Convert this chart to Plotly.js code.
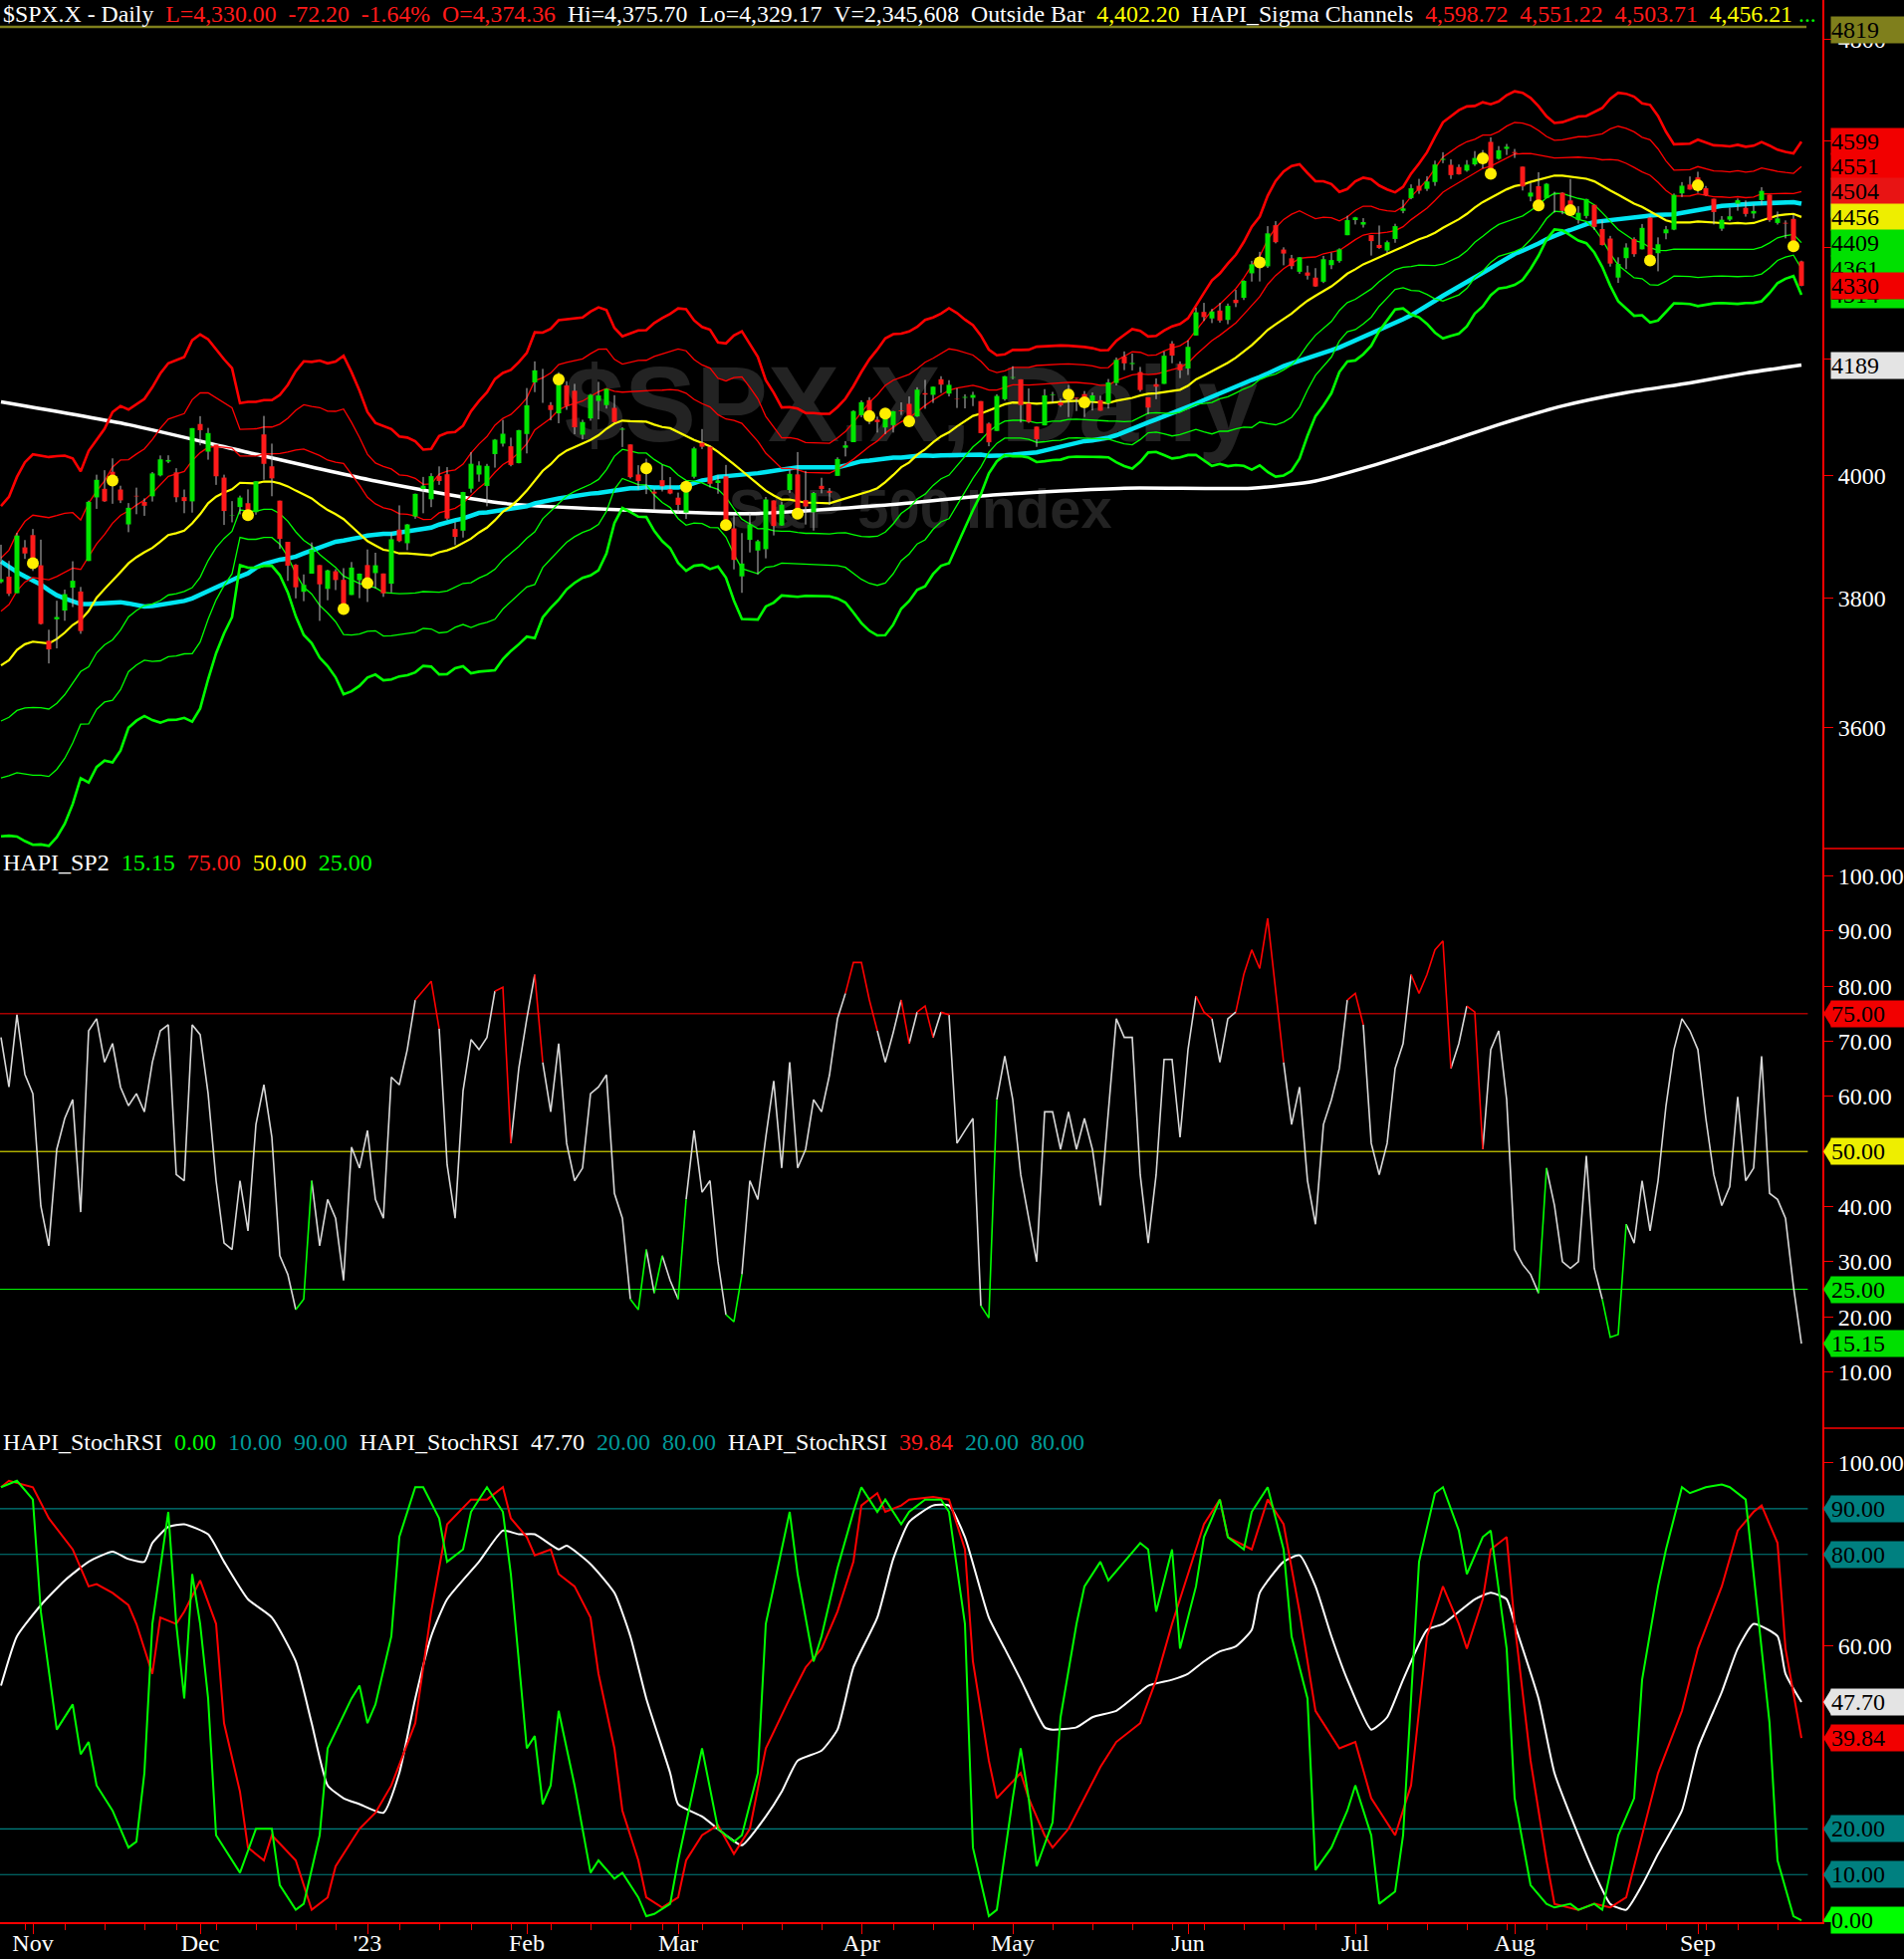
<!DOCTYPE html>
<html><head><meta charset="utf-8">
<script src="https://cdn.plot.ly/plotly-3.0.1.min.js"></script>
<style>html,body{margin:0;padding:0;background:#000;overflow:hidden}#chart{width:1912px;height:1967px}</style>
</head><body><div id="chart"></div>
<script>
// ---------------- DATA ----------------
const closes=[3830.60,3807.30,3901.06,3871.98,
3856.10,3759.69,3719.89,3770.55,3806.80,3828.11,3748.57,3956.37,3992.93,3957.25,3991.73,3958.79,3946.56,3965.34,3949.94,4003.58,4027.26,4026.12,3963.94,3957.63,4080.11,
4076.57,4071.70,3998.84,3941.26,3933.92,3963.51,3934.38,3990.56,4019.65,3995.32,3895.75,3852.36,3817.66,3821.62,3878.44,3822.39,3844.82,3829.25,3783.22,3849.28,3839.50,
3824.14,3852.97,3808.10,3895.08,3892.09,3919.25,3969.61,3983.17,3999.09,3990.97,3928.86,3898.85,3972.61,4019.81,4016.95,4016.22,4060.43,4070.56,4017.77,4076.60,
4119.21,4179.76,4136.48,4111.08,4164.00,4117.86,4081.50,4090.46,4137.29,4136.13,4147.60,4090.41,4079.09,3997.34,3991.05,4012.32,3970.04,3982.24,3970.15,
3951.39,3981.35,4045.64,4048.42,3986.37,3992.01,3918.32,3861.59,3855.76,3919.29,3891.93,3960.28,3916.64,3951.57,4002.87,3936.97,3948.72,3970.99,3977.53,3971.27,4027.81,4050.83,4109.31,
4124.51,4100.60,4090.38,4105.02,4109.11,4108.94,4091.95,4146.22,4137.64,4151.32,4154.87,4154.52,4129.79,4133.52,4137.04,4071.63,4055.99,4135.35,4169.48,
4167.87,4119.58,4090.75,4061.22,4136.25,4138.12,4119.17,4137.64,4130.62,4124.08,4136.28,4109.90,4158.77,4198.05,4191.98,4192.63,4145.58,4115.24,4151.28,4205.45,4205.52,4179.83,
4221.02,4282.37,4273.79,4283.85,4267.52,4293.93,4298.86,4338.93,4369.01,4372.59,4425.84,4409.59,4388.71,4365.69,4381.89,4348.33,4328.82,4378.41,4376.86,4396.44,4450.38,
4455.59,4446.82,4411.59,4398.95,4409.53,4439.26,4472.16,4510.04,4505.42,4522.79,4554.98,4565.72,4534.87,4536.34,4554.64,4567.46,4566.75,4537.41,4582.23,4588.96,
4576.73,4513.39,4501.89,4478.03,4518.44,4499.38,4467.71,4468.83,4464.05,4489.72,4437.86,4404.33,4370.36,4369.71,4399.77,4387.55,4436.01,4376.31,4405.71,4433.31,4497.63,4514.87,4507.66,
4515.77,4496.83,4465.48,4451.14,4457.49,4487.46,4461.90,4467.44,4505.10,4450.32,4453.53,4443.95,4402.20,4330.00];
const opens=[3825.97,3834.69,3808.26,3881.85,
3901.79,3852.90,3733.25,3766.98,3780.71,3817.02,3810.94,3859.89,3963.72,3977.97,4006.41,3976.82,3919.26,3966.39,3956.23,3965.51,4000.30,4023.34,4005.36,3964.19,3957.18,
4087.14,4040.17,4052.02,3996.63,3933.28,3947.79,3954.17,3939.29,4069.38,4015.54,3958.37,3890.91,3853.79,3810.47,3839.49,3853.26,3815.11,3843.34,3829.56,3805.45,3829.06,
3853.29,3840.36,3839.74,3823.37,3910.82,3888.57,3932.35,3977.57,3960.60,3999.28,4002.25,3911.84,3909.04,3978.14,4001.74,3982.71,4036.08,4053.72,4049.27,4020.85,
4070.07,4158.68,4136.69,4119.57,4105.35,4153.47,4144.25,4068.92,4096.62,4126.70,4119.50,4114.75,4077.39,4052.35,4001.83,4018.60,3973.24,3992.36,3977.19,
3963.34,3938.68,3998.02,4055.15,4048.26,3987.55,3998.66,3912.77,3835.12,3894.01,3876.74,3878.93,3958.69,3917.47,3975.89,4002.04,3959.21,3939.21,3982.93,3974.13,3999.53,4046.74,4056.18,
4102.20,4128.03,4094.50,4081.15,4085.20,4110.29,4121.72,4100.04,4140.11,4137.17,4164.26,4139.33,4130.48,4132.14,4132.07,4126.43,4087.78,4075.29,4129.63,
4166.79,4164.10,4122.25,4082.61,4084.73,4136.98,4124.25,4143.74,4132.24,4138.54,4126.65,4127.95,4122.85,4157.68,4204.15,4190.78,4176.80,4132.96,4155.71,4156.16,4226.71,4190.74,
4183.03,4241.01,4282.99,4271.34,4285.47,4268.69,4304.88,4308.32,4352.61,4366.29,4365.33,4440.95,4396.11,4380.01,4355.40,4354.17,4344.84,4337.36,4367.48,4374.94,4422.44,
4450.48,4442.04,4422.62,4404.54,4394.23,4415.55,4467.69,4491.50,4514.61,4508.86,4521.78,4563.87,4554.38,4550.16,4543.39,4555.19,4558.96,4598.26,4565.75,4584.82,
4578.83,4550.93,4494.27,4513.96,4491.58,4498.03,4501.57,4487.16,4450.69,4458.13,4478.87,4433.79,4416.32,4344.88,4380.28,4415.33,4396.44,4455.16,4389.38,4426.03,4432.75,4500.34,4517.01,
4530.60,4510.06,4490.35,4434.55,4451.30,4480.98,4473.27,4462.65,4487.78,4497.98,4445.13,4445.41,4452.81,4374.36];
const highs=[3886.15,3859.95,3905.42,3893.73,
3911.79,3894.44,3750.59,3796.34,3813.95,3859.40,3818.20,3958.33,4001.48,4008.97,4028.84,3983.09,3954.33,3979.89,3962.00,4005.88,4033.78,4034.02,4012.27,3976.77,4080.11,
4100.51,4080.48,4052.45,4001.51,3957.57,3966.64,3977.02,3990.71,4100.96,4053.76,3958.37,3890.91,3854.86,3838.24,3889.82,3853.26,3845.80,3846.65,3848.32,3858.19,3839.85,
3878.46,3873.16,3839.74,3906.19,3950.57,3919.83,3970.07,3997.76,4003.95,4015.39,4014.16,3922.94,3972.96,4039.31,4023.92,4019.55,4061.57,4094.21,4063.85,4077.16,
4148.95,4195.44,4182.36,4124.63,4176.54,4160.77,4156.23,4094.36,4138.90,4159.77,4148.11,4136.54,4081.51,4052.35,4017.37,4028.30,3978.25,4018.05,3997.50,
3971.73,3990.84,4048.29,4078.49,4050.00,4000.41,4017.81,3934.05,3905.05,3937.29,3894.26,3964.46,3958.91,3956.62,4009.08,4039.49,4007.66,3972.74,3996.38,3979.20,4030.59,4057.85,4110.75,
4127.66,4133.13,4099.69,4107.32,4109.50,4124.26,4134.37,4150.26,4163.19,4151.72,4169.48,4162.57,4148.57,4138.02,4142.41,4126.43,4089.67,4138.24,4170.06,
4186.92,4164.10,4148.30,4082.61,4147.02,4142.30,4130.35,4154.28,4132.80,4143.74,4141.25,4135.54,4164.67,4202.20,4212.91,4209.22,4185.68,4132.96,4165.74,4212.87,4231.10,4195.44,
4232.43,4290.67,4299.28,4288.33,4299.19,4298.01,4322.62,4340.13,4375.37,4391.82,4439.20,4448.47,4400.15,4386.22,4382.25,4366.55,4362.06,4384.42,4390.35,4398.39,4458.48,
4456.46,4454.06,4422.62,4440.39,4412.60,4443.64,4488.34,4517.38,4527.76,4532.85,4562.30,4578.43,4564.74,4555.00,4563.41,4580.62,4582.47,4607.07,4590.16,4594.22,
4584.62,4550.93,4519.49,4540.34,4519.84,4503.31,4502.44,4527.37,4476.23,4490.33,4478.87,4449.95,4421.17,4381.82,4407.55,4418.59,4443.18,4458.30,4418.46,4439.56,4500.14,4521.65,4532.26,
4541.25,4514.29,4490.35,4457.81,4473.53,4490.77,4487.11,4479.39,4511.99,4497.98,4466.36,4449.85,4461.03,4375.70];
const lows=[3824.07,3803.79,3808.26,3863.18,
3843.80,3758.68,3698.15,3721.56,3764.70,3786.28,3744.22,3859.89,3944.82,3956.40,3953.17,3954.34,3906.54,3935.98,3933.34,3956.88,3998.66,4020.76,3955.77,3937.65,3938.58,
4050.87,4026.63,3984.49,3918.39,3922.68,3935.83,3933.04,3935.30,3993.03,3965.65,3879.45,3827.91,3800.04,3795.62,3839.49,3764.49,3797.01,3813.22,3780.78,3805.45,3800.34,
3794.33,3815.77,3802.42,3809.56,3890.42,3877.29,3928.54,3937.56,3947.67,3984.57,3926.59,3885.54,3897.86,3971.64,3989.79,3949.06,4013.29,4048.70,4015.55,4020.44,
4037.20,4141.88,4123.36,4093.38,4088.39,4111.35,4069.67,4060.79,4092.67,4095.01,4113.51,4089.49,4047.95,3995.19,3976.90,3969.19,3943.08,3973.55,3968.98,
3939.05,3928.16,3995.17,4044.61,3980.31,3969.76,3908.70,3846.32,3808.86,3873.63,3838.24,3864.11,3901.27,3916.89,3971.19,3936.17,3919.05,3909.16,3970.46,3951.53,3999.53,4032.10,4056.18,
4098.79,4086.87,4072.56,4069.84,4072.55,4102.61,4086.94,4099.40,4113.20,4123.18,4140.36,4134.49,4114.57,4113.86,4117.77,4071.38,4049.35,4075.29,4127.18,
4164.12,4089.72,4088.86,4048.28,4084.73,4123.81,4116.65,4098.92,4109.29,4099.12,4110.27,4109.86,4113.62,4153.50,4180.20,4179.68,4142.54,4103.98,4129.73,4156.16,4192.18,4166.15,
4171.64,4241.01,4266.82,4263.09,4263.96,4261.07,4291.70,4304.37,4337.66,4337.85,4362.60,4407.44,4367.19,4360.14,4351.82,4341.34,4328.08,4335.00,4360.22,4371.97,4422.44,
4442.29,4436.61,4385.05,4397.40,4389.92,4408.46,4463.23,4489.36,4499.56,4504.90,4514.59,4557.48,4527.56,4535.79,4541.29,4552.42,4547.58,4528.56,4564.01,4573.14,
4567.53,4505.75,4485.54,4474.55,4491.15,4464.39,4461.33,4457.92,4443.98,4453.44,4432.19,4403.55,4364.83,4335.31,4360.30,4382.77,4396.44,4375.55,4356.29,4414.98,4431.68,4493.59,4507.39,
4501.35,4496.01,4442.38,4430.46,4448.38,4467.89,4456.83,4453.52,4478.69,4447.21,4442.11,4416.61,4401.38,4329.17];
// sigma-channel centre (20-bar mean) and channel step (sigma), one per bar
const mid20=[3695,3703,3719,3728,3732,3731,3729,3736,3746,3758,3766,3780,3801,3815,3828,3842,3856,3866,3874,3881,3891,3902,3905,3909,3921,3936,3954,3965,3972,
3977,3988,3987,3987,3990,3990,3987,3982,3975,3969,3962,3952,3943,3936,3928,3916,3904,3892,3885,3878,3876,3872,3872,3871,3869,3869,3874,3877,3882,
3889,3896,3906,3914,3926,3940,3949,3961,3975,3992,4008,4019,4033,4042,4048,4053,4060,4068,4079,4088,4093,4092,4091,4091,4086,4082,4080,4073,4066,
4060,4055,4049,4040,4030,4019,4008,3997,3985,3975,3967,3960,3960,3958,3955,3955,3954,3954,3958,3962,3965,3969,3974,3979,3989,4001,4014,4022,4035,
4044,4056,4066,4073,4083,4092,4101,4105,4110,4115,4121,4124,4124,4123,4122,4123,4125,4125,4127,4127,4126,4125,4123,4123,4127,4129,4132,4136,4139,
4140,4142,4143,4146,4153,4164,4171,4178,4186,4193,4202,4213,4224,4237,4251,4261,4271,4280,4292,4303,4312,4321,4329,4340,4352,4360,4369,4375,4382,
4388,4395,4401,4408,4415,4420,4427,4436,4444,4452,4462,4474,4484,4492,4501,4508,4514,4517,4522,4526,4531,4534,4534,4532,4530,4528,4523,4514,4506,
4498,4490,4481,4475,4467,4458,4450,4446,4446,4446,4448,4447,4445,4445,4444,4445,4444,4445,4450,4454,4459,4461,4462,4456.21];
const sigma20=[84.8,87.2,92.9,98.1,101.2,100.7,100.7,98.9,95.8,90.3,80.3,87.1,86.5,88.0,93.2,92.0,85.3,85.1,85.4,89.8,94.4,96.7,97.6,98.0,103.9,102.3,93.4,83.7,75.7,
68.9,45.0,46.0,46.0,46.0,46.0,50.0,57.5,67.8,75.5,77.5,81.6,83.0,86.4,92.4,86.9,80.1,71.9,68.0,68.6,67.5,64.6,64.0,62.2,58.2,58.6,64.2,65.1,63.8,
65.1,71.0,73.5,75.9,79.5,78.4,77.2,77.7,78.4,84.9,79.4,78.0,78.4,75.9,74.4,73.4,74.5,74.4,69.1,55.5,48.9,50.8,53.0,53.2,59.1,63.3,66.5,72.1,74.0,
69.3,67.1,67.4,63.0,65.7,74.1,80.2,76.6,72.8,62.6,57.9,51.8,52.0,51.8,50.3,50.3,50.2,50.2,52.7,56.2,62.4,69.3,75.0,79.1,82.3,80.8,76.8,75.4,73.8,
74.9,72.4,71.3,72.2,66.0,59.1,52.8,45.3,35.4,30.4,28.9,30.5,30.5,31.0,33.1,33.0,33.0,32.8,32.0,31.7,31.6,31.2,30.6,30.8,34.9,37.7,40.1,37.7,33.4,
33.4,35.9,38.1,38.5,39.5,43.1,48.7,53.9,55.5,59.1,61.5,65.6,71.4,73.3,81.6,87.6,90.3,90.7,87.8,78.6,70.5,67.4,63.0,54.4,52.2,54.3,53.7,50.7,44.4,
39.9,35.8,37.2,43.2,47.2,52.8,60.3,66.7,67.9,69.2,68.3,64.6,63.7,59.7,58.6,60.3,60.8,58.8,53.8,47.1,38.9,33.6,34.1,36.6,39.1,40.1,44.1,49.9,58.6,
65.2,67.2,68.3,66.0,67.6,63.4,55.9,49.2,49.3,49.6,51.5,50.2,48.9,48.7,48.5,49.2,48.3,48.6,49.3,45.7,41.4,39.4,38.1,47.51];
const channelSteps=[-3,-2,-1,1,2,3];
// cyan average, one per bar
const ma50=[3859,3850,3842,3835,3829,3822,3813,3805,3800,3796,3791,3791,3792,3792,3794,3794,3792,3790,3787,3788,3790,3793,3794,3796,3800,3806,3812,3818,3824,
3830,3835,3840,3849,3855,3859,3862,3864,3867,3872,3877,3882,3886,3891,3893,3895,3898,3901,3903,3904,3904,3906,3908,3909,3911,3914,3919,3923,3926,
3929,3933,3938,3939,3941,3943,3944,3946,3949,3954,3957,3959,3962,3964,3966,3969,3970,3971,3973,3975,3978,3979,3979,3981,3980,3980,3979,3980,3983,
3987,3992,3994,3998,3999,4000,4001,4003,4004,4006,4008,4010,4013,4014,4014,4014,4014,4013,4014,4017,4021,4024,4025,4027,4029,4030,4030,4032,4033,
4034,4033,4034,4034,4034,4034,4035,4035,4033,4033,4034,4035,4036,4038,4039,4042,4045,4048,4051,4055,4058,4059,4061,4064,4068,4074,4080,4086,4090,
4095,4100,4106,4110,4115,4122,4128,4134,4140,4147,4152,4158,4163,4168,4175,4181,4187,4192,4197,4202,4206,4211,4215,4220,4226,4233,4239,4244,4251,
4258,4264,4270,4277,4285,4293,4303,4312,4320,4328,4336,4345,4354,4362,4371,4380,4388,4394,4400,4407,4415,4422,4427,4432,4438,4443,4447,4449,4451,
4453,4455,4457,4459,4459,4460,4460,4461,4464,4467,4470,4472,4475,4477,4478,4480,4480,4481,4482,4483,4484,4484,4484,4481];
// white long average (read at sample bars)
const ma200Bar=[0,16,31,47,63,78,94,110,125,141,157,165,172,180,188,196,204,212,219,226];
const ma200Val=[4125,4086,4039,3991,3954,3943,3937,3950,3968,3979,3979,3991,4016,4050,4086,4118,4141,4158,4175,4189];
// yellow dot bars (dot sits on the close)
const dotBars=[4,14,31,43,46,70,81,86,91,100,109,111,114,134,136,158,186,187,193,197,207,213,225];
// HAPI_SP2, one per bar
const sp2=[70.7,61.7,74.8,64.0,60.5,40.1,32.9,50.4,56.0,59.4,39.0,71.9,74.1,66.2,69.6,61.7,58.3,60.5,57.2,66.2,71.9,73.0,
45.8,44.7,73.0,71.2,60.5,44.7,33.4,32.2,44.7,35.6,54.9,62.1,52.6,31.1,27.7,21.3,23.2,44.7,32.9,41.3,
37.9,26.6,50.8,47.0,53.8,41.3,37.9,63.5,62.1,68.5,77.5,79.1,80.9,72.3,47.6,37.9,61.0,70.3,68.5,70.7,
79.1,79.8,51.5,65.1,74.1,82.1,66.2,57.2,69.6,51.5,44.7,47.0,60.5,61.7,63.9,42.4,37.9,23.2,21.3,32.2,
24.3,31.1,26.6,23.2,41.3,53.8,42.6,44.7,30.0,20.4,19.1,27.7,44.7,41.3,52.6,62.8,47.0,66.2,47.0,50.4,
59.4,57.2,63.9,74.1,78.7,84.3,84.3,77.5,71.9,66.2,71.6,77.5,69.6,75.3,76.4,70.7,75.3,74.8,51.5,53.8,
56.0,22.0,19.8,59.4,67.3,59.4,45.8,37.9,30.0,57.2,57.2,50.4,57.2,50.4,56.0,50.4,40.2,57.2,74.1,70.7,
70.7,45.8,33.4,45.8,66.7,66.7,52.6,68.5,78.2,75.3,74.1,66.2,74.1,75.3,82.1,86.6,83.2,92.3,78.7,66.2,
54.9,61.7,44.7,36.8,54.9,59.4,65.1,77.5,78.7,73.0,51.5,45.8,51.5,65.1,69.6,82.1,78.7,82.1,86.6,88.2,
65.1,69.6,76.4,75.3,50.4,68.5,71.9,59.4,32.2,29.5,27.7,24.3,47.0,40.2,30.0,28.8,30.0,49.2,28.8,
23.2,16.3,16.8,36.8,33.4,44.7,35.6,44.7,58.3,68.5,74.1,71.9,68.5,56.0,45.8,40.2,43.6,59.9,44.7,
47.0,67.3,42.4,41.3,37.9,25.5,15.15];
const sp2Levels=[75,50,25];
// HAPI_StochRSI lines (bar, value)
const stochSlowBar=[0,2,5,8,11,14,16,18,19,21,23,26,28,31,34,37,39,41,43,45,48,50,52,54,56,60,63,65,67,70,71,74,77,79,81,84,85,88,91,93,96,98,100,103,105,107,110,112,114,117,119,121,124,126,128,131,132,135,137,140,142,144,147,149,151,153,155,157,158,161,163,165,167,169,172,174,176,179,181,183,185,187,189,190,193,195,198,200,202,204,206,208,211,213,216,218,220,223,224,226];
const stochSlowVal=[51.3,62.1,68.9,74.3,78.4,80.6,79.0,78.4,82.5,86.0,86.6,84.4,78.4,70.2,66.2,56.6,43.1,29.5,26.7,25.4,23.5,32.2,48.5,62.1,70.2,78.4,85.2,84.4,84.4,81.1,81.9,77.9,71.6,62.1,48.5,32.2,25.4,22.7,18.6,16.4,22.7,28.1,34.9,37.1,41.7,55.3,66.2,79.0,87.1,90.7,90.7,83.8,66.2,59.4,52.6,42.2,41.7,42.2,44.4,45.8,48.5,51.3,52.6,53.9,56.6,58.8,59.9,63.5,71.6,78.4,79.8,73.0,62.1,52.6,41.7,44.4,52.6,63.5,64.8,67.5,70.2,71.6,70.2,64.8,48.5,32.2,18.6,10.4,3.6,2.3,7.7,14.5,24.0,37.6,49.9,59.4,64.8,62.1,53.9,47.70];
const stochMidBar=[0,1,4,6,9,11,12,14,16,17,19,20,22,23,25,27,28,30,31,33,34,37,39,41,42,45,47,49,52,54,56,59,61,63,64,66,67,69,70,72,74,75,77,78,80,81,83,85,86,88,90,92,94,96,99,101,103,105,107,108,110,111,113,114,117,119,121,122,124,125,128,129,131,132,134,136,138,140,143,145,147,149,151,153,154,157,159,161,163,165,168,170,172,175,177,179,181,183,184,186,187,189,190,192,194,195,198,200,202,204,206,208,211,213,216,218,220,221,223,224,226];
const stochMidVal=[94.7,96.1,94.7,87.9,81.1,73.0,73.5,71.6,68.9,64.8,53.9,66.2,64.8,67.5,74.3,64.8,43.1,28.1,15.9,13.1,18.6,13.1,2.3,5.0,11.8,20.0,23.5,29.5,43.1,67.5,86.6,92.0,92.0,94.7,87.9,83.8,79.8,81.1,75.7,73.0,66.2,53.9,37.6,24.0,13.1,5.0,2.8,5.0,13.1,18.6,20.8,14.5,20.0,37.6,48.5,55.3,59.4,67.5,78.4,90.7,93.4,89.3,90.7,92.0,92.6,92.0,81.1,56.6,34.9,26.7,32.2,26.7,18.6,15.9,20.0,26.7,33.5,39.0,43.1,52.6,64.8,75.7,86.6,92.0,83.8,81.1,92.0,86.6,67.5,45.8,37.6,39.0,26.7,18.6,29.5,62.1,73.0,64.8,59.4,70.2,81.1,83.8,64.8,34.9,13.1,3.6,2.3,3.6,2.8,5.0,18.6,32.2,45.8,59.4,73.0,85.2,89.3,90.7,82.5,59.4,39.84];
const stochFastBar=[0,2,4,5,7,9,10,11,12,14,16,17,18,19,21,22,23,24,25,26,27,29,30,32,34,35,37,38,40,41,44,45,46,47,49,50,52,53,55,56,58,59,61,63,64,66,67,68,69,70,72,74,75,77,78,80,81,82,84,85,87,88,90,92,93,95,96,98,99,100,102,103,105,107,108,110,111,113,114,116,118,119,121,122,124,125,127,128,129,130,132,133,135,136,138,139,141,143,144,145,147,148,150,151,153,154,156,157,159,161,162,164,165,167,169,170,172,173,175,176,178,180,181,183,184,186,187,189,190,192,194,195,197,198,200,201,203,205,206,208,209,211,212,214,216,217,219,220,222,223,225,226];
const stochFastVal=[94.7,96.1,92.0,67.5,41.7,47.2,36.3,39.0,29.5,24.0,15.9,17.2,32.2,64.8,89.3,64.8,48.5,75.7,64.8,48.5,18.6,13.1,10.4,20.0,20.0,7.7,2.3,3.6,18.6,37.6,48.5,51.3,43.1,47.2,62.1,83.8,94.7,94.7,87.9,78.4,81.1,89.3,94.7,89.3,75.7,37.6,40.3,25.4,29.5,45.8,29.5,10.4,13.1,9.1,10.4,5.0,0.9,1.4,3.6,13.1,29.5,37.6,20.0,17.2,18.6,32.2,64.8,81.1,89.3,75.7,56.6,62.1,77.0,89.3,94.7,89.3,92.0,86.6,89.3,92.0,92.0,89.3,64.8,15.9,0.9,2.3,26.7,37.6,26.7,11.8,21.4,44.4,64.8,73.0,78.4,74.3,78.4,82.5,81.1,67.5,81.1,59.4,73.0,83.8,92.0,83.8,81.1,89.3,94.7,81.1,62.1,48.5,11.0,15.9,24.0,29.5,18.6,3.6,6.3,18.6,78.4,93.4,94.7,85.2,75.7,83.8,85.2,59.4,26.7,7.7,3.6,2.8,3.6,2.3,3.6,2.3,18.6,26.7,52.6,73.0,81.1,94.7,93.4,94.7,95.3,94.7,92.0,75.7,43.1,13.1,0.9,0.0];
const stochLevels=[90,80,20,10];
// axis ticks (labels left blank where a value flag covers them in the reference)
const monthBars=[4,25,46,66,85,108,127,149,170,190,213];
const monthLabels=['Nov','Dec',"'23",'Feb','Mar','Apr','May','Jun','Jul','Aug','Sep'];
const weekBars=[3,8,13,18,22,27,32,37,42,46,50,55,59,64,69,74,79,83,88,93,98,103,108,112,117,122,127,132,137,142,147,151,156,161,165,170,174,179,184,189,194,199,204,209,214,218,223];
const priceTicks=[3600,3800,4000,4200,4400,4600,4800];
const priceTickText=['3600','3800','4000','','','','4800'];
const sp2Ticks=[10,20,30,40,50,60,70,80,90,100];
const sp2TickText=['10.00','20.00','30.00','40.00','','60.00','70.00','80.00','90.00','100.00'];
const stochTicks=[0,20,40,60,80,100];
const stochTickText=['','','','60.00','','100.00'];
// right-edge value flags (drawing order = list order)
const priceFlagVals=[4819,4480.71,4598.72,4551.22,4503.71,4456.21,4408.70,4313.70,4361.20,4330.00,4189];
const priceFlagText=['4819','','4599','4551','4504','4456','4409','4314','4361','4330','4189'];
const sp2FlagVals=[75,50,25,15.15];
const stochFlagVals=[90,80,20,10,47.70,39.84,0];

// ---------------- STYLE ----------------
const SERIF='Liberation Serif, "Times New Roman", serif';
const RED='#ff0000', GREEN='#00ff00', YELLOW='#ffff00', CYAN='#00e6f2', TEAL='#008080', OLIVE='#7f7f1c', WHITE='#ffffff';
const priceFlagColors=[OLIVE,CYAN,'#f20000','#f20000','#e81414','#eeee00','#00e000','#00e000','#00e000','#f20000','#e4e4e4'];
const sp2FlagColors=['#f20000','#eeee00','#00e000','#00e000'];
const stochFlagColors=[TEAL,TEAL,TEAL,TEAL,'#e4e4e4','#f20000','#00ff00'];

// ---------------- BUILD ----------------
const n=closes.length;
const bars=closes.map((_,i)=>i);
const traces=[];
function ln(x,y,color,width,yaxis,extra){return Object.assign({type:'scatter',mode:'lines',x:x,y:y,xaxis:'x',yaxis:yaxis,line:{color:color,width:width},hoverinfo:'skip',showlegend:false,connectgaps:false},extra||{});}

traces.push(ln(ma200Bar,ma200Val,WHITE,3.5,'y',{line:{color:WHITE,width:3.5,shape:'spline',smoothing:0.6}}));
traces.push(ln(bars,ma50,CYAN,4.5,'y'));
channelSteps.forEach(k=>{
  const y=mid20.map((m,i)=>m+k*sigma20[i]);
  const col=k<0?GREEN:RED;
  const w=Math.abs(k)===3?2.6:1.3;
  traces.push(ln(bars,y,col,w,'y'));
});
traces.push(ln(bars,mid20,YELLOW,2.2,'y'));
const wx=[],wy=[];
bars.forEach(i=>{wx.push(i,i,null);wy.push(lows[i],highs[i],null);});
traces.push(ln(wx,wy,'#bdbdbd',1,'y'));
const ux=[],uy=[],dx=[],dy=[];
bars.forEach(i=>{
  if(closes[i]>=opens[i]){ux.push(i,i,null);uy.push(opens[i],closes[i],null);}
  else{dx.push(i,i,null);dy.push(opens[i],closes[i],null);}
});
traces.push(ln(ux,uy,'#00e600',5,'y'));
traces.push(ln(dx,dy,'#ff1a1a',5,'y'));
traces.push({type:'scatter',mode:'markers',x:dotBars,y:dotBars.map(i=>closes[i]),xaxis:'x',yaxis:'y',marker:{color:'#ffee00',size:12,line:{width:0}},hoverinfo:'skip',showlegend:false});

function zone(v){return v>sp2Levels[0]?'r':(v<sp2Levels[2]?'g':'w');}
const runs={w:{x:[],y:[]},r:{x:[],y:[]},g:{x:[],y:[]}};
let cur=null;
for(let i=1;i<n;i++){
  const k=zone(sp2[i-1]);
  if(k!==cur){ if(runs[k].x.length){runs[k].x.push(null);runs[k].y.push(null);} runs[k].x.push(i-1);runs[k].y.push(sp2[i-1]);cur=k; }
  runs[k].x.push(i);runs[k].y.push(sp2[i]);
}
traces.push(ln(runs.w.x,runs.w.y,'#d8d8d8',1.6,'y2'));
traces.push(ln(runs.r.x,runs.r.y,RED,1.6,'y2'));
traces.push(ln(runs.g.x,runs.g.y,GREEN,1.6,'y2'));

traces.push(ln(stochSlowBar,stochSlowVal,WHITE,2,'y3',{line:{color:WHITE,width:2,shape:'spline',smoothing:0.5}}));
traces.push(ln(stochMidBar,stochMidVal,RED,2,'y3'));
traces.push(ln(stochFastBar,stochFastVal,GREEN,2,'y3'));

// ---------------- LAYOUT ----------------
const W=1912,H=1967,ML=0,MR=82,MT=0,MB=37;
const plotH=H-MT-MB;
const pPrice=[0.55855,1], pSp2=[0.25699,0.55855], pSto=[0,0.25699];
const shapes=[], annotations=[];

shapes.push({type:'rect',xref:'paper',yref:'paper',x0:0.25,x1:0.75,y0:0.765,y1:0.825,layer:'below',line:{width:0},fillcolor:'rgba(0,0,0,0)',
  label:{text:'$SPX.X, Daily',font:{family:'Liberation Sans, Arial, sans-serif',size:108,color:'#232323',weight:'bold'},textposition:'middle center'}});
shapes.push({type:'rect',xref:'paper',yref:'paper',x0:0.35,x1:0.66,y0:0.722,y1:0.754,layer:'below',line:{width:0},fillcolor:'rgba(0,0,0,0)',
  label:{text:'S&P 500 Index',font:{family:'Liberation Sans, Arial, sans-serif',size:56,color:'#232323',weight:'bold'},textposition:'middle center'}});

shapes.push({type:'line',xref:'paper',yref:'paper',x0:0,x1:0.9913,y0:0.98601,y1:0.98601,line:{color:OLIVE,width:2.5},layer:'above'});
[pSp2[1],pSto[1]].forEach(y=>shapes.push({type:'line',xref:'paper',yref:'paper',x0:1,x1:1+MR/1830,y0:y,y1:y,line:{color:RED,width:1.5},layer:'above'}));

const lastX=n-1+0.8;
const sp2LevelColors=[RED,YELLOW,GREEN];
sp2Levels.forEach((v,j)=>shapes.push({type:'line',xref:'x',yref:'y2',x0:-1,x1:lastX,y0:v,y1:v,line:{color:sp2LevelColors[j],width:1},layer:'below'}));
stochLevels.forEach(v=>shapes.push({type:'line',xref:'x',yref:'y3',x0:-1,x1:lastX,y0:v,y1:v,line:{color:TEAL,width:1.2},layer:'below'}));

function flag(axis,val,text,bg,isLog){
  const yv=isLog?Math.log10(val):val;
  shapes.push({type:'path',xref:'paper',yref:axis,xsizemode:'pixel',ysizemode:'pixel',xanchor:1,yanchor:yv,
    path:'M 1 0 L 9 13 L 9 -13 Z',fillcolor:bg,line:{width:0},layer:'above'});
  annotations.push({xref:'paper',yref:axis,x:1,y:yv,xanchor:'left',yanchor:'middle',xshift:8,text:text||' ',showarrow:false,
    bgcolor:bg,width:74,height:26,align:'left',borderpad:0,font:{family:SERIF,size:24,color:'#000'}});
}
priceFlagVals.forEach((v,j)=>flag('y',v,priceFlagText[j],priceFlagColors[j],true));
sp2FlagVals.forEach((v,j)=>flag('y2',v,v.toFixed(2),sp2FlagColors[j],false));
stochFlagVals.forEach((v,j)=>flag('y3',v,v.toFixed(2),stochFlagColors[j],false));

const S='&nbsp;&nbsp;';
function hdr(text,yPix,size){annotations.push({xref:'paper',yref:'paper',x:0,y:(plotH-yPix)/plotH,xanchor:'left',yanchor:'middle',xshift:1,showarrow:false,align:'left',text:text,font:{family:SERIF,size:size||24,color:WHITE}});}
const r=s=>'<span style="color:#ff1a1a">'+s+'</span>', yel=s=>'<span style="color:#ffff00">'+s+'</span>', g=s=>'<span style="color:#00ff00">'+s+'</span>', t=s=>'<span style="color:#009999">'+s+'</span>';
hdr('$SPX.X - Daily'+S+r('L=4,330.00'+S+'-72.20'+S+'-1.64%'+S+'O=4,374.36')+S+'Hi=4,375.70'+S+'Lo=4,329.17'+S+'V=2,345,608'+S+'Outside Bar'+S+yel('4,402.20')+S+'HAPI_Sigma Channels'+S+r('4,598.72'+S+'4,551.22'+S+'4,503.71')+S+yel('4,456.21')+' '+g('...'),14,23.8);
hdr('HAPI_SP2'+S+g('15.15')+S+r('75.00')+S+yel('50.00')+S+g('25.00'),866);
hdr('HAPI_StochRSI'+S+g('0.00')+S+t('10.00')+S+t('90.00')+S+'HAPI_StochRSI'+S+'47.70'+S+t('20.00')+S+t('80.00')+S+'HAPI_StochRSI'+S+r('39.84')+S+t('20.00')+S+t('80.00'),1448);

const yBase={side:'right',anchor:'x',showgrid:false,zeroline:false,showline:true,linecolor:RED,linewidth:2,ticks:'outside',ticklen:9,tickcolor:RED,tickwidth:1,
  tickfont:{family:SERIF,size:24,color:WHITE},fixedrange:true};
const layout={
  width:W,height:H,margin:{l:ML,r:MR,t:MT,b:MB,pad:0},paper_bgcolor:'#000',plot_bgcolor:'rgba(0,0,0,0)',showlegend:false,
  font:{family:SERIF,size:24,color:WHITE},
  xaxis:{range:[-0.125,228.625],anchor:'y3',tickmode:'array',tickvals:monthBars,ticktext:monthLabels,ticks:'outside',ticklen:10,tickcolor:RED,tickwidth:1,
    ticklabelstandoff:-12,
    showline:true,linecolor:RED,linewidth:2,showgrid:false,zeroline:false,tickfont:{family:SERIF,size:24,color:WHITE},fixedrange:true,
    minor:{tickmode:'array',tickvals:weekBars,ticks:'outside',ticklen:6,tickcolor:RED,tickwidth:1,showgrid:false}},
  yaxis:Object.assign({},yBase,{domain:pPrice,type:'log',range:[3.53441,3.68833],tickmode:'array',tickvals:priceTicks,ticktext:priceTickText}),
  yaxis2:Object.assign({},yBase,{domain:pSp2,range:[-0.2,104.97],tickmode:'array',tickvals:sp2Ticks,ticktext:sp2TickText}),
  yaxis3:Object.assign({},yBase,{domain:pSto,range:[-0.4,107.6],tickmode:'array',tickvals:stochTicks,ticktext:stochTickText}),
  shapes:shapes,annotations:annotations
};
Plotly.newPlot('chart',traces,layout,{displayModeBar:false,staticPlot:true});
</script></body></html>
